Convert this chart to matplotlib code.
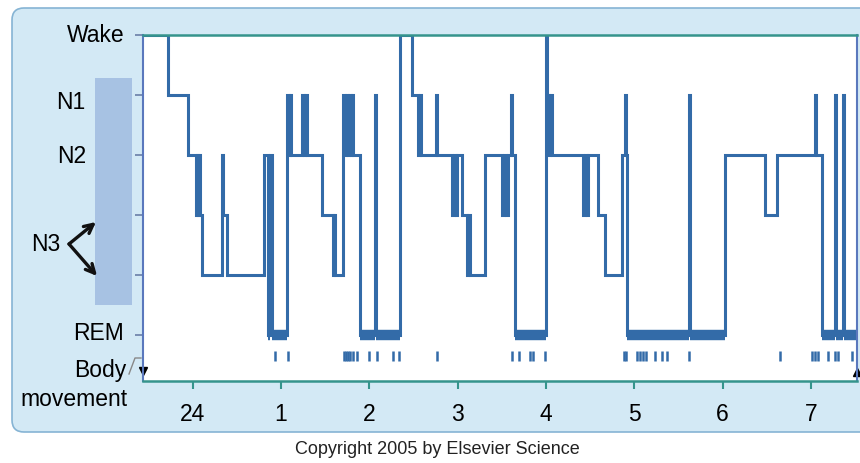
import matplotlib
matplotlib.use('Agg')
import matplotlib.pyplot as plt
import matplotlib.transforms as mtransforms
from matplotlib.patches import FancyBboxPatch, Rectangle

plt.rcParams['font.family'] = ['Liberation Sans', 'DejaVu Sans']

# hypnogram: stage code per transition (5=Wake, 4=N1, 3=N2, 2/1=N3, 0=REM)
# times are hours after midnight (24 -> 0)
stage_times = [-0.56, -0.28, -0.05, 0.037, 0.049, 0.060, 0.071, 0.083, 0.106,
               0.333, 0.343, 0.388, 0.808, 0.853, 0.876, 0.898,
               1.068, 1.091, 1.102, 1.113, 1.238, 1.261, 1.272, 1.295,
               1.465, 1.589, 1.601, 1.612, 1.703, 1.725, 1.737, 1.759,
               1.770, 1.793, 1.804, 1.816, 1.895, 2.065, 2.076, 2.348,
               2.484, 2.552, 2.575, 2.586, 2.756, 2.767, 2.937, 2.960,
               2.982, 2.994, 3.050, 3.107, 3.118, 3.141, 3.311, 3.503,
               3.526, 3.548, 3.571, 3.605, 3.616, 3.650, 4.001, 4.013,
               4.035, 4.047, 4.069, 4.420, 4.443, 4.465, 4.477, 4.590,
               4.669, 4.862, 4.896, 4.907, 4.919, 5.621, 5.632, 6.028,
               6.481, 6.617, 7.047, 7.058, 7.126, 7.273, 7.284, 7.363,
               7.375]
stage_vals = [5, 4, 3, 2, 3, 2, 3, 2, 1,
              3, 2, 1, 3, 0, 3, 0,
              4, 3, 4, 3, 4, 3, 4, 3,
              2, 1, 2, 1, 4, 3, 4, 3,
              4, 3, 4, 3, 0, 4, 0, 5,
              4, 3, 4, 3, 4, 3, 2, 3,
              2, 3, 2, 1, 2, 1, 3, 2,
              3, 2, 3, 4, 3, 0, 5, 4,
              3, 4, 3, 2, 3, 2, 3, 2,
              1, 3, 4, 3, 0, 4, 0, 3,
              2, 3, 4, 3, 0, 4, 0, 4,
              0]
end_time = 7.52

body_movements = [0.932, 1.079, 1.714, 1.737, 1.759, 1.782, 1.816, 1.861,
                  1.997, 2.088, 2.269, 2.337, 2.767, 3.616, 3.696, 3.820,
                  3.854, 3.990, 4.885, 4.907, 5.032, 5.066, 5.100, 5.134,
                  5.236, 5.315, 5.372, 5.621, 6.652, 7.014, 7.047, 7.081,
                  7.194, 7.273, 7.307, 7.465]

hour_ticks = [0, 1, 2, 3, 4, 5, 6, 7]
hour_labels = ['24', '1', '2', '3', '4', '5', '6', '7']

line_col = '#336ba8'
teal = '#35948c'
fs = 16.5

fig = plt.figure(figsize=(8.6, 4.63), dpi=100)
ax = fig.add_axes([143 / 860, 1 - 381 / 463, 714 / 860, 346 / 463])

# background panel
panel = FancyBboxPatch((0.12, 0.31), 8.8, 4.24, boxstyle='round,pad=0,rounding_size=0.12',
                       transform=fig.dpi_scale_trans, facecolor='#d3e9f5',
                       edgecolor='#86b4d4', linewidth=1.2, zorder=-5)
fig.add_artist(panel)
# N3 shaded bar
fig.add_artist(Rectangle((0.95, 1.58), 0.37, 2.27, transform=fig.dpi_scale_trans,
                         facecolor='#a7c2e3', edgecolor='none', zorder=-4))

# hypnogram
xs = stage_times + [end_time]
ys = stage_vals + [stage_vals[-1]]
ax.step(xs, ys, where='post', color=line_col, lw=2.2, solid_joinstyle='miter')
for i, v in enumerate(stage_vals):
    if v == 0:
        ax.hlines(0, xs[i], xs[i + 1], color=line_col, lw=7.5)

ax.vlines(body_movements, -0.43, -0.27, color=line_col, lw=1.8)

ax.set_xlim(-0.563, 7.523)
ax.set_ylim(-0.767, 5.0)
ax.set_xticks(hour_ticks)
ax.set_xticklabels(hour_labels, fontsize=fs)
ax.set_yticks([0, 1, 2, 3, 4, 5])
ax.set_yticklabels([])
ax.tick_params(axis='x', direction='out', length=6, width=1.5, color=teal, pad=10)
ax.tick_params(axis='y', direction='out', length=6, width=1.2, color='#6a7fa8')
for s in ['top', 'bottom']:
    ax.spines[s].set_color(teal)
    ax.spines[s].set_linewidth(1.8)
for s in ['left', 'right']:
    ax.spines[s].set_color('#5a78bd')
    ax.spines[s].set_linewidth(1.5)

# stage labels
blend = mtransforms.blended_transform_factory(fig.transFigure, ax.transData)
ax.text(125 / 860, 5.0, 'Wake', transform=blend, ha='right', va='center', fontsize=fs)
ax.text(85 / 860, 3.88, 'N1', transform=blend, ha='right', va='center', fontsize=fs)
ax.text(86 / 860, 2.97, 'N2', transform=blend, ha='right', va='center', fontsize=fs)
ax.text(124 / 860, 0.03, 'REM', transform=blend, ha='right', va='center', fontsize=fs)
ax.text(60 / 860, 1.51, 'N3', transform=blend, ha='right', va='center', fontsize=fs)
fig.text(126 / 860, 1 - 371 / 463, 'Body', ha='right', va='center', fontsize=fs)
fig.text(128 / 860, 1 - 399 / 463, 'movement', ha='right', va='center', fontsize=fs)

# N3 arrows
for tip in [(96, 463 - 222), (97, 463 - 276)]:
    ax.annotate('', xy=tip, xytext=(69, 463 - 244), xycoords='figure pixels',
                textcoords='figure pixels',
                arrowprops=dict(arrowstyle='->', lw=2.4, color='#111111',
                                shrinkA=0, shrinkB=0, mutation_scale=16))

# body movement markers at the axis ends
ax.plot([129 / 860, 135 / 860, 141 / 860], [1 - 374 / 463, 1 - 358 / 463, 1 - 358 / 463],
        transform=fig.transFigure, color='#888888', lw=1, clip_on=False)
edge = mtransforms.blended_transform_factory(ax.transAxes, ax.transData)
ax.plot([0], [-0.6], marker='v', color='black', ms=6, clip_on=False, transform=edge)
ax.plot([1], [-0.62], marker='^', color='black', ms=6, clip_on=False, transform=edge)

fig.text(437 / 860, 1 - 450 / 463, 'Copyright 2005 by Elsevier Science', ha='center',
         va='center', fontsize=13, color='#222222')

fig.savefig('out.png', dpi=100)
